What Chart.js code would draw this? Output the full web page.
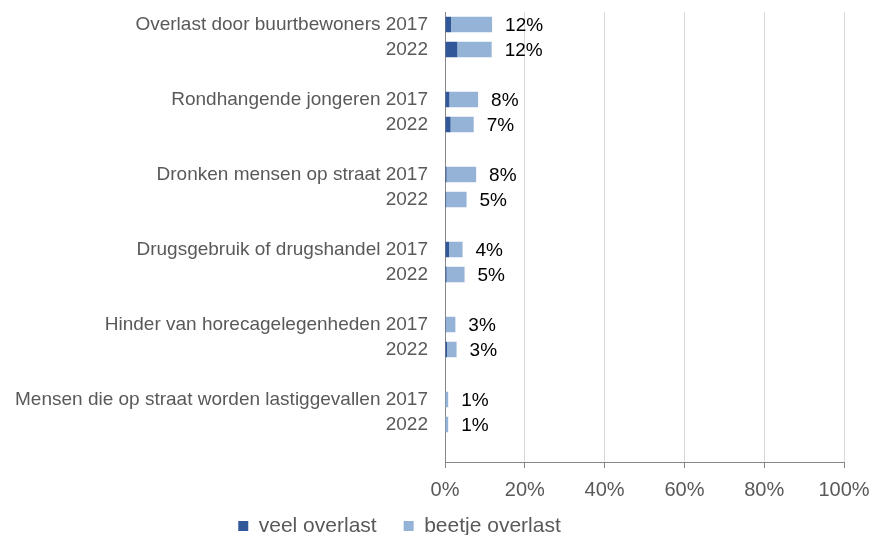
<!DOCTYPE html>
<html>
<head>
<meta charset="utf-8">
<script src="https://cdn.jsdelivr.net/npm/chart.js@4/dist/chart.umd.min.js"></script>
<style>
  html, body { margin: 0; padding: 0; background: #fff; }
  #wrap { width: 873px; height: 535px; }
</style>
</head>
<body>
<div id="wrap"><canvas id="chart"></canvas></div>
<script>
const groups = [
  'Overlast door buurtbewoners',
  'Rondhangende jongeren',
  'Dronken mensen op straat',
  'Drugsgebruik of drugshandel',
  'Hinder van horecagelegenheden',
  'Mensen die op straat worden lastiggevallen'
];
const years = ['2017', '2022'];
// per group: 2017, 2022
const veel = [1.5, 3.1, 1.1, 1.4, 0.4, 0.3, 1.0, 0.4, 0.2, 0.5, 0.1, 0.1];
const beetje = [10.3, 8.6, 7.2, 5.8, 7.4, 5.1, 3.4, 4.5, 2.4, 2.4, 0.7, 0.7];
const xTicks = [0, 20, 40, 60, 80, 100];

const FONT = '"Liberation Sans", Arial, sans-serif';

// rows: two bars per group, then an empty row as a gap
const labels = [];
const veelRows = [];
const beetjeRows = [];
groups.forEach((g, i) => {
  years.forEach((y, j) => {
    labels.push(j === 0 ? g + ' ' + y : y);
    veelRows.push(veel[i * 2 + j]);
    beetjeRows.push(beetje[i * 2 + j]);
  });
  labels.push('');
  veelRows.push(null);
  beetjeRows.push(null);
});

const totalLabels = {
  id: 'totalLabels',
  afterDatasetsDraw(chart) {
    const ctx = chart.ctx;
    const meta = chart.getDatasetMeta(1);
    ctx.save();
    ctx.font = '19px ' + FONT;
    ctx.fillStyle = '#000';
    ctx.textAlign = 'left';
    ctx.textBaseline = 'middle';
    meta.data.forEach((bar, i) => {
      if (beetjeRows[i] === null) return;
      const total = veelRows[i] + beetjeRows[i];
      ctx.fillText(Math.round(total) + '%', bar.x + 13, bar.y + 1);
    });
    ctx.restore();
  }
};

// put the legend where the original has it (a bit left of centre, near the bottom)
const placeLegend = {
  id: 'placeLegend',
  afterLayout(chart) {
    const lg = chart.legend;
    const pad = lg.options.labels.padding;
    const dx = -37;
    const dy = 526 - (lg.top + pad + 21 / 2);
    lg.left += dx; lg.right += dx;
    lg.top += dy; lg.bottom += dy;
  }
};

new Chart(document.getElementById('chart'), {
  type: 'bar',
  data: {
    labels: labels,
    datasets: [
      { label: 'veel overlast', data: veelRows, backgroundColor: '#31599a', barPercentage: 0.62, categoryPercentage: 1 },
      { label: 'beetje overlast', data: beetjeRows, backgroundColor: '#95b3d7', barPercentage: 0.62, categoryPercentage: 1 }
    ]
  },
  options: {
    indexAxis: 'y',
    responsive: true,
    maintainAspectRatio: false,
    animation: false,
    layout: { padding: { top: 12, right: 0, left: 0, bottom: -35 } },
    plugins: {
      tooltip: { enabled: false },
      legend: {
        position: 'bottom',
        labels: {
          boxWidth: 10,
          boxHeight: 10,
          padding: 27,
          color: '#595959',
          font: { family: FONT, size: 21 }
        }
      }
    },
    scales: {
      x: {
        stacked: true,
        min: 0,
        max: 100,
        afterBuildTicks(axis) { axis.ticks = xTicks.map(v => ({ value: v })); },
        afterFit(axis) { axis.paddingRight = 29; },
        grid: { color: '#d9d9d9', tickColor: '#868686', tickLength: 6, lineWidth: 1 },
        border: { color: '#868686' },
        ticks: {
          padding: 10,
          color: '#595959',
          font: { family: FONT, size: 20 },
          callback: v => v + '%'
        }
      },
      y: {
        stacked: true,
        grid: { display: false, drawTicks: false },
        border: { color: '#868686' },
        afterFit(axis) {
          axis.width = 445;
          axis.paddingTop = 0;
          axis.paddingBottom = 0;
        },
        ticks: {
          padding: 17,
          autoSkip: false,
          color: '#595959',
          font: { family: FONT, size: 19 }
        }
      }
    }
  },
  plugins: [totalLabels, placeLegend]
});
</script>
</body>
</html>
